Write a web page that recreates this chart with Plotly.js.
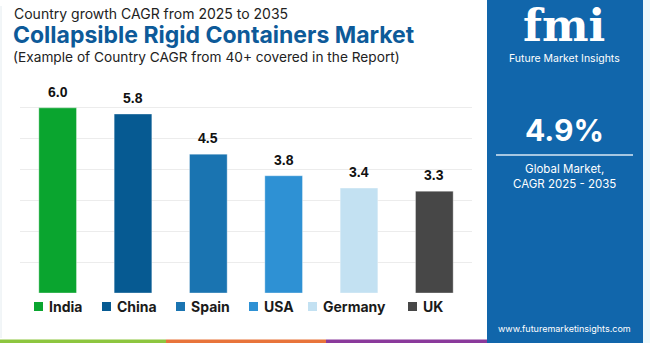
<!DOCTYPE html>
<html><head><meta charset="utf-8">
<script src="https://cdn.plot.ly/plotly-3.0.1.min.js"></script>
<style>html,body{margin:0;padding:0;background:#fff;}#chart{width:650px;height:343px;}</style>
</head><body><div id="chart"></div>
<script>
// ---- data ----
const countries = ["India", "China", "Spain", "USA", "Germany", "UK"];
const cagrValues = [6.0, 5.8, 4.5, 3.8, 3.4, 3.3];
const barColors = ["#0aa52f", "#065a92", "#1a74b1", "#2e91d4", "#c3e1f2", "#474747"];
const globalCagr = "4.9%";
const yTicks = [0, 1, 2, 3, 4, 5, 6, 7];

// ---- geometry helpers (plot area: x 20..472, y 77..293) ----
const L = 20, T = 77, W = 452, H = 216;
const px = x => (x - L) / W;
const py = y => (T + H - y) / H;

const traces = countries.map((c, i) => ({
  type: "bar", x: [c], y: [cagrValues[i]], name: c, width: 0.5,
  marker: {color: barColors[i], line: {color: "rgba(255,255,255,0.35)", width: 1}},
  hoverinfo: "skip", showlegend: false
}));

const font = "Inter, 'Open Sans', sans-serif";
const annotations = [];
// value labels
countries.forEach((c, i) => annotations.push({
  x: c, y: cagrValues[i], xref: "x", yref: "y", yanchor: "bottom", yshift: 6,
  text: "<b>" + cagrValues[i].toFixed(1) + "</b>", showarrow: false,
  font: {family: "'Liberation Sans', Arial, sans-serif", size: 14, color: "#111"}
}));
// legend
const legendLeft = [34, 102, 176, 249, 308, 408];
const shapes = [];
countries.forEach((c, i) => {
  shapes.push({type: "rect", xref: "paper", yref: "paper",
    x0: px(legendLeft[i]), x1: px(legendLeft[i] + 9), y0: py(311), y1: py(302),
    fillcolor: barColors[i], line: {width: 0}});
  annotations.push({x: px(legendLeft[i] + 13), y: py(306.5), xref: "paper", yref: "paper",
    xanchor: "left", yanchor: "middle", showarrow: false, text: "<b>" + c + "</b>",
    font: {family: font, size: 14, color: "#1a1a1a"}});
});
// titles
annotations.push({x: px(13), y: py(13), xref: "paper", yref: "paper", xanchor: "left", yanchor: "middle",
  showarrow: false, borderpad: 0, text: "Country growth CAGR from 2025 to 2035", font: {family: font, size: 14, color: "#222"}});
annotations.push({x: px(12), y: py(35), xref: "paper", yref: "paper", xanchor: "left", yanchor: "middle",
  showarrow: false, borderpad: 0, text: "<b>Collapsible Rigid Containers Market</b>", font: {family: font, size: 23, color: "#0d5a99"}});
annotations.push({x: px(12), y: py(57.4), xref: "paper", yref: "paper", xanchor: "left", yanchor: "middle",
  showarrow: false, borderpad: 0, text: "(Example of Country CAGR from 40+ covered in the Report)", font: {family: font, size: 13.7, color: "#222"}});

// frame details
shapes.push({type: "line", xref: "paper", yref: "paper", x0: px(1), x1: px(1), y0: py(338), y1: py(6),
  line: {color: "#e4ecf0", width: 1}});
// right panel
shapes.push({type: "rect", xref: "paper", yref: "paper", x0: px(487), x1: px(643), y0: py(343), y1: py(0),
  fillcolor: "#1166ab", line: {width: 0}});
shapes.push({type: "rect", xref: "paper", yref: "paper", x0: px(643), x1: px(650), y0: py(343), y1: py(0),
  fillcolor: "#eef9fc", line: {width: 0}});
shapes.push({type: "line", xref: "paper", yref: "paper", x0: px(496), x1: px(633), y0: py(155), y1: py(155),
  line: {color: "#d8e8f5", width: 1.5}});
// bottom stripe
[[0, 166, "#8dc63f"], [166, 326, "#e8743b"], [326, 487, "#8a3a9b"]].forEach(s => shapes.push({
  type: "rect", xref: "paper", yref: "paper", x0: px(s[0]), x1: px(s[1]), y0: py(343), y1: py(339.5),
  fillcolor: s[2], line: {width: 0}}));

annotations.push({x: px(564), y: py(52), xref: "paper", yref: "paper", xanchor: "center", yanchor: "bottom",
  showarrow: false, borderpad: 0, text: "<b>fmi</b>", font: {family: "'DejaVu Serif', serif", size: 44, color: "#ffffff"}});
annotations.push({x: px(564), y: py(58.5), xref: "paper", yref: "paper", xanchor: "center", yanchor: "middle",
  showarrow: false, borderpad: 0, text: "Future Market Insights", font: {family: font, size: 10.5, color: "#ffffff"}});
annotations.push({x: px(564), y: py(130), xref: "paper", yref: "paper", xanchor: "center", yanchor: "middle",
  showarrow: false, text: "<b>" + globalCagr + "</b>", font: {family: font, size: 30, color: "#ffffff"}});
annotations.push({x: px(564), y: py(176.5), xref: "paper", yref: "paper", xanchor: "center", yanchor: "middle",
  showarrow: false, text: "Global Market,<br>CAGR 2025 - 2035", align: "center",
  font: {family: font, size: 11.5, color: "#ffffff"}});
annotations.push({x: px(564), y: py(328), xref: "paper", yref: "paper", xanchor: "center", yanchor: "middle",
  showarrow: false, text: "www.futuremarketinsights.com", font: {family: font, size: 9, color: "#ffffff"}});

const layout = {
  width: 650, height: 343,
  margin: {l: L, r: 650 - L - W, t: T, b: 343 - T - H, pad: 0},
  paper_bgcolor: "#ffffff", plot_bgcolor: "#ffffff",
  barmode: "overlay", showlegend: false,
  xaxis: {type: "category", showticklabels: false, showgrid: false, zeroline: false, showline: false, ticks: "",
          range: [-0.5, 5.5]},
  yaxis: {range: [0, 7], tickvals: yTicks, showticklabels: false, gridcolor: "#ececec", gridwidth: 1,
          zeroline: false, showline: false, ticks: ""},
  shapes: shapes, annotations: annotations
};
Plotly.newPlot("chart", traces, layout, {displayModeBar: false, staticPlot: true});
</script></body></html>
